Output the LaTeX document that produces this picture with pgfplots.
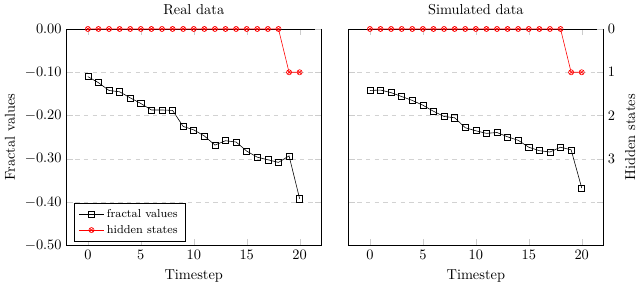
\documentclass[border=0pt]{standalone}
\usepackage{pgfplots}
\pgfplotsset{compat=1.18}
\begin{document}
\begin{tikzpicture}
\pgfplotsset{
  panel/.style={
    scale only axis, width=176.6pt, height=150.5pt,
    xmin=-2, xmax=22, ymin=-0.5, ymax=0,
    xtick={0,5,10,15,20},
    ytick={-0.5,-0.4,-0.3,-0.2,-0.1,0},
    ymajorgrids, grid style={dashed, gray!35},
    major tick style={gray!40},
    xlabel={Timestep},
    yticklabel style={/pgf/number format/fixed,/pgf/number format/fixed zerofill,/pgf/number format/precision=2},
  },
  hid/.style={
    scale only axis, width=176.6pt, height=150.5pt,
    xmin=-2, xmax=22, ymin=0, ymax=5, y dir=reverse,
    axis x line=none, axis y line*=right,
    ytick={0,1,2,3},
    major tick style={gray!40},
  },
  fv/.style={black, mark=square, mark size=2.1pt, mark options={solid}},
  hs/.style={red, mark=otimes, mark size=1.8pt},
}
% ---- Left panel
\begin{axis}[panel, title={Real data}, ylabel={Fractal values},
  legend style={at={(0.03,0.02)}, anchor=south west, font=\footnotesize, draw=black},
  legend cell align=left]
\addplot[fv] coordinates {
(0,-0.110) (1,-0.124) (2,-0.142) (3,-0.145) (4,-0.159) (5,-0.172) (6,-0.187)
(7,-0.187) (8,-0.188) (9,-0.225) (10,-0.233) (11,-0.247) (12,-0.268) (13,-0.258)
(14,-0.261) (15,-0.282) (16,-0.296) (17,-0.302) (18,-0.308) (19,-0.293) (20,-0.392)};
\addlegendentry{fractal values}
\addlegendimage{hs}
\addlegendentry{hidden states}
\end{axis}
\begin{axis}[hid, yticklabels={}]
\addplot[hs] coordinates {
(0,0) (1,0) (2,0) (3,0) (4,0) (5,0) (6,0) (7,0) (8,0) (9,0) (10,0)
(11,0) (12,0) (13,0) (14,0) (15,0) (16,0) (17,0) (18,0) (19,1) (20,1)};
\end{axis}
% ---- Right panel
\begin{axis}[panel, at={(196pt,0)}, title={Simulated data}, yticklabels={}]
\addplot[fv] coordinates {
(0,-0.142) (1,-0.141) (2,-0.147) (3,-0.156) (4,-0.165) (5,-0.176) (6,-0.190)
(7,-0.202) (8,-0.205) (9,-0.228) (10,-0.235) (11,-0.241) (12,-0.239) (13,-0.249)
(14,-0.257) (15,-0.273) (16,-0.281) (17,-0.284) (18,-0.273) (19,-0.279) (20,-0.367)};
\end{axis}
\begin{axis}[hid, at={(196pt,0)}, ylabel={Hidden states}]
\addplot[hs] coordinates {
(0,0) (1,0) (2,0) (3,0) (4,0) (5,0) (6,0) (7,0) (8,0) (9,0) (10,0)
(11,0) (12,0) (13,0) (14,0) (15,0) (16,0) (17,0) (18,0) (19,1) (20,1)};
\end{axis}
\end{tikzpicture}
\end{document}
